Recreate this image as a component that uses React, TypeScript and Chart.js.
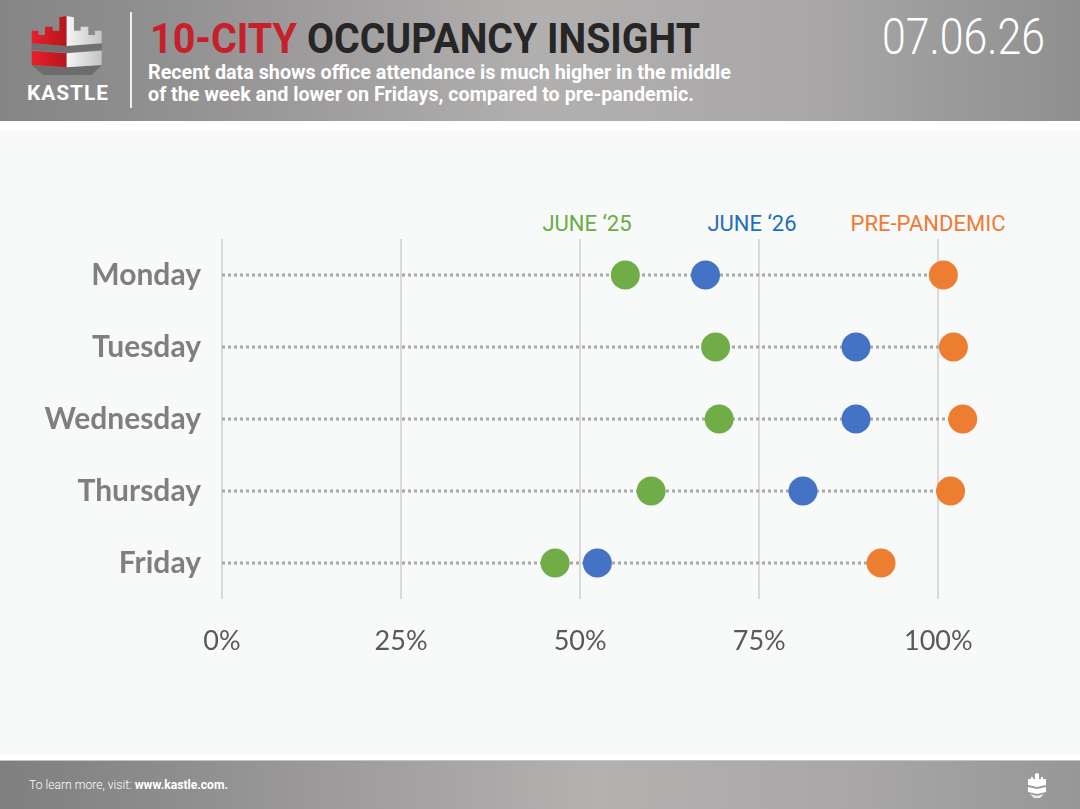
import React, { useEffect, useLayoutEffect, useRef } from "react";
import { Chart, registerables } from "chart.js";

Chart.register(...registerables);

// ---- data ----
const days = ["Monday", "Tuesday", "Wednesday", "Thursday", "Friday"];
const june25 = [56.3, 68.9, 69.4, 59.9, 46.5];
const june26 = [67.5, 88.5, 88.5, 81.1, 52.4];
const prePandemic = [100.7, 102.1, 103.4, 101.7, 92.0];
const xTickValues = [0, 25, 50, 75, 100];
const seriesNames = ["JUNE \u201825", "JUNE \u201826", "PRE-PANDEMIC"];
const seriesColors = ["#70ad47", "#4472c4", "#ed7d31"];
const legendColors = ["#6aad45", "#1f6fc0", "#f07a35"];

function FitText({ target, style, children }: { target: number; style?: any; children: any }) {
  const ref = useRef<HTMLSpanElement>(null);
  useLayoutEffect(() => {
    const fit = () => {
      const el = ref.current;
      if (!el) return;
      el.style.transform = "none";
      const w = el.getBoundingClientRect().width;
      if (w > 0) el.style.transform = `scaleX(${target / w})`;
    };
    fit();
    (document as any).fonts?.ready?.then(fit);
  }, [target]);
  return (
    <span
      ref={ref}
      style={{ display: "inline-block", whiteSpace: "nowrap", transformOrigin: "left center", ...style }}
    >
      {children}
    </span>
  );
}

function ChartCanvas() {
  const ref = useRef<HTMLCanvasElement>(null);
  useEffect(() => {
    if (!ref.current) return;
    const connectors = days.map((d, i) => ({
      type: "line",
      label: d,
      data: [
        { x: 0, y: d },
        { x: Math.max(june25[i], june26[i], prePandemic[i]), y: d },
      ],
      borderColor: "#a8a8a8",
      borderWidth: 3,
      borderDash: [3, 3],
      pointRadius: 0,
      fill: false,
      order: 2,
    }));
    const points = [june25, june26, prePandemic].map((arr, k) => ({
      type: "line",
      label: seriesNames[k],
      data: arr.map((v, i) => ({ x: v, y: days[i] })),
      showLine: false,
      pointRadius: 14.5,
      pointBackgroundColor: seriesColors[k],
      pointBorderWidth: 0,
      borderColor: seriesColors[k],
      order: 1,
    }));
    const chart = new Chart(ref.current, {
      type: "line",
      data: { datasets: [...points, ...connectors] as any },
      options: {
        responsive: false,
        animation: false,
        devicePixelRatio: 1,
        events: [],
        layout: { padding: { left: 0, right: 70, top: 109, bottom: 0 } },
        plugins: { legend: { display: false }, tooltip: { enabled: false } },
        scales: {
          x: {
            type: "linear",
            min: 0,
            max: 110,
            afterBuildTicks: (s: any) => {
              s.ticks = xTickValues.map((v) => ({ value: v }));
            },
            afterFit: (s: any) => {
              s.height = 156;
            },
            grid: { color: "#d9d9d9", lineWidth: 2, drawTicks: false },
            border: { display: false },
            ticks: {
              padding: 26,
              color: "#595959",
              font: { family: "Lato", size: 27 },
              callback: (v: any) => v + "%",
            },
          },
          y: {
            type: "category",
            labels: days,
            offset: true,
            afterFit: (s: any) => {
              s.width = 222;
            },
            grid: { display: false, drawTicks: false },
            border: { display: false },
            ticks: {
              padding: 21,
              color: "#7f7f7f",
              font: { family: "Lato", size: 30, weight: "bold" },
            },
          },
        },
      } as any,
    });
    return () => chart.destroy();
  }, []);
  return (
    <canvas
      ref={ref}
      width={1080}
      height={625}
      style={{ position: "absolute", left: 0, top: 130, width: 1080, height: 625 }}
    />
  );
}

function Logo() {
  const s = (pts: number[][]) => pts.map(([x, y]) => `${x / 3},${y / 3}`).join(" ");
  return (
    <svg width={100} height={100} viewBox="0 0 100 100" style={{ position: "absolute", left: 20, top: 10 }}>
      <defs>
        <linearGradient id="rg" x1="0" x2="1" y1="0" y2="0">
          <stop offset="0" stopColor="#e8202a" />
          <stop offset="1" stopColor="#b5161e" />
        </linearGradient>
        <linearGradient id="wg" x1="0" x2="1" y1="0" y2="0">
          <stop offset="0" stopColor="#f4f4f4" />
          <stop offset="1" stopColor="#c4c4c4" />
        </linearGradient>
      </defs>
      <polygon points={s([[35, 165], [140, 172], [245, 165], [215, 195], [70, 195]])} fill="#6c6c6c" />
      <polygon points={s([[35, 100], [140, 108], [245, 100], [245, 120], [140, 128], [35, 120]])} fill="#707070" />
      <polygon
        points={s([[35, 62], [55, 62], [55, 75], [75, 75], [75, 50], [98, 50], [98, 62], [118, 62], [118, 22], [140, 18], [140, 108], [35, 100]])}
        fill="url(#rg)"
      />
      <polygon
        points={s([[140, 18], [162, 22], [162, 62], [182, 62], [182, 50], [205, 50], [205, 75], [225, 75], [225, 62], [245, 62], [245, 100], [140, 108]])}
        fill="url(#wg)"
      />
      <polygon points={s([[35, 122], [140, 130], [140, 172], [35, 165]])} fill="url(#rg)" />
      <polygon points={s([[140, 130], [245, 122], [245, 165], [140, 172]])} fill="url(#wg)" />
    </svg>
  );
}

function SmallIcon() {
  return (
    <svg width={18} height={25} viewBox="0 0 18 25" style={{ position: "absolute", left: 1028, top: 773 }}>
      <polygon points="0,6 3,6 3,4 5,4 5,6 7,6 7,1 9,0 11,1 11,6 13,6 13,4 15,4 15,6 18,6 18,12 9,14 0,12" fill="#fff" />
      <polygon points="0,14 9,16 18,14 18,19 9,21 0,19" fill="#fff" />
      <polygon points="2,21 9,23 16,21 12,25 6,25" fill="#eee" />
    </svg>
  );
}

export default function App() {
  return (
    <div
      style={{
        position: "fixed",
        left: 0,
        top: 0,
        width: 1080,
        height: 809,
        background: "#ffffff",
        overflow: "hidden",
        fontFamily: "Roboto, sans-serif",
      }}
    >
      {/* header */}
      <div
        style={{
          position: "absolute",
          left: 0,
          top: 0,
          width: 1080,
          height: 121,
          background: "linear-gradient(90deg, #858585 0%, #9a9898 25%, #b2afaf 50%, #a9a7a7 75%, #8f8f8f 100%)",
        }}
      />
      <Logo />
      <div
        style={{
          position: "absolute",
          left: 27,
          top: 81,
          fontFamily: "Roboto",
          fontWeight: 700,
          fontSize: 21,
          lineHeight: "24px",
          color: "#ffffff",
          letterSpacing: 1,
        }}
      >
        <FitText target={82}>KASTLE</FitText>
      </div>
      <div style={{ position: "absolute", left: 130, top: 12, width: 1.5, height: 96, background: "rgba(255,255,255,0.85)" }} />
      <div
        style={{
          position: "absolute",
          left: 150,
          top: 18,
          fontFamily: "Roboto",
          fontWeight: 700,
          fontSize: 42,
          lineHeight: "42px",
          whiteSpace: "nowrap",
        }}
      >
        <FitText target={147} style={{ color: "#c8202b" }}>10-CITY</FitText>
        <span style={{ position: "absolute", left: 157, top: 0 }}>
          <FitText target={393} style={{ color: "#262626" }}>OCCUPANCY INSIGHT</FitText>
        </span>
      </div>
      <div
        style={{
          position: "absolute",
          left: 148,
          top: 61,
          fontFamily: "Roboto",
          fontWeight: 700,
          fontSize: 20,
          lineHeight: "22px",
          color: "#ffffff",
        }}
      >
        <div>
          <FitText target={583}>Recent data shows office attendance is much higher in the middle</FitText>
        </div>
        <div>
          <FitText target={546}>of the week and lower on Fridays, compared to pre-pandemic.</FitText>
        </div>
      </div>
      <div
        style={{
          position: "absolute",
          left: 882,
          top: 12,
          fontFamily: "Roboto",
          fontWeight: 300,
          fontSize: 50,
          lineHeight: "50px",
          color: "#ffffff",
        }}
      >
        <FitText target={163}>07.06.26</FitText>
      </div>

      {/* chart panel */}
      <div style={{ position: "absolute", left: 0, top: 131, width: 1080, height: 624, background: "#f8f9f9" }} />
      {seriesNames.map((n, k) => (
        <div
          key={n}
          style={{
            position: "absolute",
            left: [587, 752, 928][k] - 150,
            width: 300,
            top: 211,
            textAlign: "center",
            fontFamily: "Roboto",
            fontSize: 22,
            lineHeight: "26px",
            color: legendColors[k],
            whiteSpace: "nowrap",
          }}
        >
          {n}
        </div>
      ))}
      <ChartCanvas />

      {/* footer */}
      <div
        style={{
          position: "absolute",
          left: 0,
          top: 760,
          width: 1080,
          height: 49,
          background: "linear-gradient(90deg, #7f7f7f 0%, #9c9a9a 30%, #b4b1b1 55%, #a8a6a6 80%, #979797 100%)",
          borderTop: "1px solid #c4c4c4",
          boxSizing: "border-box",
        }}
      />
      <div
        style={{
          position: "absolute",
          left: 29,
          top: 777,
          fontFamily: "Roboto",
          fontSize: 12,
          lineHeight: "16px",
          color: "#ffffff",
        }}
      >
        <FitText target={199}>
          <span style={{ fontWeight: 300 }}>To learn more, visit: </span>
          <span style={{ fontWeight: 700 }}>www.kastle.com.</span>
        </FitText>
      </div>
      <SmallIcon />
    </div>
  );
}
